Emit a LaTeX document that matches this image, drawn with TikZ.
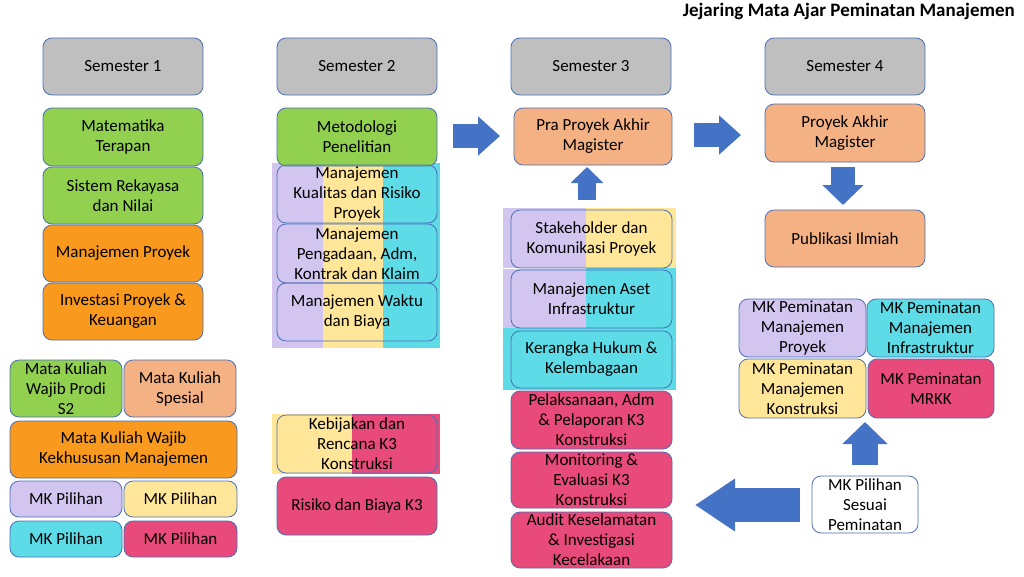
\documentclass[tikz,border=0pt]{standalone}
\usepackage{fontspec}
\setmainfont{Carlito}
\usetikzlibrary{arrows.meta}
\definecolor{bordc}{HTML}{4A6FB5}
\definecolor{arrc}{HTML}{4472C4}
\definecolor{cgray}{HTML}{BFBFBF}
\definecolor{cgreen}{HTML}{92D050}
\definecolor{corange}{HTML}{F99A1E}
\definecolor{cpeach}{HTML}{F4B183}
\definecolor{cpurple}{HTML}{D2C6F0}
\definecolor{cyellow}{HTML}{FFE699}
\definecolor{ccyan}{HTML}{5DDCE8}
\definecolor{cpink}{HTML}{E84A7B}
\begin{document}
\begin{tikzpicture}[x=1pt,y=-1pt,
  box/.style={draw=bordc, line width=0.8pt, rounded corners=9pt, align=center, inner sep=0pt,
    font=\fontsize{17}{20}\selectfont, text=black},
  sem/.style={box, fill=cgray, minimum width=160pt, minimum height=57pt},
  blockarrow/.style={line width=#1, arrc, line cap=butt},
  title/.style={font=\fontsize{19}{22}\selectfont\bfseries, inner sep=0pt}
]
\useasboundingbox (0,0) rectangle (1024,576);
\node[title, anchor=east] (title) at (1015,11) {Jejaring Mata Ajar Peminatan Manajemen};

% stripes column 2
\fill[cpurple] (272,163) rectangle (323,348);
\fill[cyellow] (323,163) rectangle (383,348);
\fill[ccyan] (383,163) rectangle (440,348);
\fill[cyellow] (272,414) rectangle (352,474);
\fill[cpink] (352,414) rectangle (440,474);
% stripes column 3
\fill[cpurple] (503,208) rectangle (586,328);
\fill[cyellow] (586,208) rectangle (676,268);
\fill[ccyan] (586,268) rectangle (676,328);
\fill[ccyan] (503,328) rectangle (676,390);
\draw[white, line width=0.8pt] (503,268) -- (586,268);

% column 1
\node[sem] (s1) at (123,66.5) {Semester 1};
\node[box, fill=cgreen, minimum width=160pt, minimum height=58pt] (mt) at (123,137) {Matematika\\Terapan};
\node[box, fill=cgreen, minimum width=160pt, minimum height=57pt] (srn) at (123,195.5) {Sistem Rekayasa\\dan Nilai};
\node[box, fill=corange, minimum width=160pt, minimum height=57pt] (mp) at (123,253.5) {Manajemen Proyek};
\node[box, fill=corange, minimum width=160pt, minimum height=57pt] (ipk) at (123,311.5) {Investasi Proyek \&\\Keuangan};

% column 2
\node[sem] (s2) at (357,66.5) {Semester 2};
\node[box, fill=cgreen, minimum width=160pt, minimum height=58pt] (metp) at (357,137) {Metodologi\\Penelitian};
\node[box, minimum width=160pt, minimum height=58pt] (mkr) at (357,194) {Manajemen\\Kualitas dan Risiko\\Proyek};
\node[box, minimum width=160pt, minimum height=59pt] (mpa) at (357,253.5) {Manajemen\\Pengadaan, Adm,\\Kontrak dan Klaim};
\node[box, minimum width=160pt, minimum height=58pt] (mwb) at (357,312) {Manajemen Waktu\\dan Biaya};
\node[box, minimum width=160pt, minimum height=58pt] (krk) at (357,444) {Kebijakan dan\\Rencana K3\\Konstruksi};
\node[box, fill=cpink, minimum width=160pt, minimum height=58pt] (rbk) at (357,506) {Risiko dan Biaya K3};

% column 3
\node[sem] (s3) at (591,66.5) {Semester 3};
\node[box, fill=cpeach, minimum width=158pt, minimum height=57pt] (ppa) at (593,136.5) {Pra Proyek Akhir\\Magister};
\node[box, minimum width=161pt, minimum height=58pt] (skp) at (591.5,239) {Stakeholder dan\\Komunikasi Proyek};
\node[box, minimum width=161pt, minimum height=58pt] (mai) at (591.5,299) {Manajemen Aset\\Infrastruktur};
\node[box, minimum width=161pt, minimum height=57pt] (khk) at (591.5,359.5) {Kerangka Hukum \&\\Kelembagaan};
\node[box, fill=cpink, minimum width=161pt, minimum height=58pt] (pap) at (591.5,420) {Pelaksanaan, Adm\\\& Pelaporan K3\\Konstruksi};
\node[box, fill=cpink, minimum width=161pt, minimum height=56pt] (mek) at (591.5,480) {Monitoring \&\\Evaluasi K3\\Konstruksi};
\node[box, fill=cpink, minimum width=161pt, minimum height=56pt] (aki) at (591.5,540) {Audit Keselamatan\\\& Investigasi\\Kecelakaan};

% column 4
\node[sem] (s4) at (845,66.5) {Semester 4};
\node[box, fill=cpeach, minimum width=160pt, minimum height=58pt] (pam) at (845,133) {Proyek Akhir\\Magister};
\node[box, fill=cpeach, minimum width=160pt, minimum height=57pt] (pi) at (845,238.5) {Publikasi Ilmiah};

% legend right
\node[box, fill=cpurple, minimum width=127pt, minimum height=58pt] (pmp) at (802.5,328) {MK Peminatan\\Manajemen\\Proyek};
\node[box, fill=ccyan, minimum width=127pt, minimum height=58pt] (pmi) at (930.5,328) {MK Peminatan\\Manajemen\\Infrastruktur};
\node[box, fill=cyellow, minimum width=127pt, minimum height=59pt] (pmk) at (802.5,388.5) {MK Peminatan\\Manajemen\\Konstruksi};
\node[box, fill=cpink, minimum width=126pt, minimum height=59pt] (pmr) at (931,388.5) {MK Peminatan\\MRKK};
\node[box, fill=white, minimum width=106pt, minimum height=57pt] (pil) at (865,504.5) {MK Pilihan\\Sesuai\\Peminatan};

% legend left
\node[box, fill=cgreen, minimum width=112pt, minimum height=57pt] (lw) at (66,388.5) {Mata Kuliah\\Wajib Prodi\\S2};
\node[box, fill=cpeach, minimum width=112pt, minimum height=57pt] (ls) at (180,388.5) {Mata Kuliah\\Spesial};
\node[box, fill=corange, minimum width=227pt, minimum height=57pt] (lk) at (123.5,449.5) {Mata Kuliah Wajib\\Kekhususan Manajemen};
\node[box, fill=cpurple, minimum width=112pt, minimum height=36pt] (lp1) at (66,499) {MK Pilihan};
\node[box, fill=cyellow, minimum width=113pt, minimum height=36pt] (lp2) at (180.5,499) {MK Pilihan};
\node[box, fill=ccyan, minimum width=112pt, minimum height=36pt] (lp3) at (66,539) {MK Pilihan};
\node[box, fill=cpink, minimum width=113pt, minimum height=36pt] (lp4) at (180.5,539) {MK Pilihan};

% block arrows
\coordinate (a1s) at (453,136); \coordinate (a1e) at (500,136);
\draw[blockarrow=24pt, -{Triangle[width=38pt,length=22pt]}] (a1s) -- (a1e);
\coordinate (a2s) at (694,135); \coordinate (a2e) at (741,135);
\draw[blockarrow=24pt, -{Triangle[width=38pt,length=22pt]}] (a2s) -- (a2e);
\coordinate (a3s) at (587,200); \coordinate (a3e) at (587,167);
\draw[blockarrow=18pt, -{Triangle[width=32pt,length=16pt]}] (a3s) -- (a3e);
\coordinate (a4s) at (843,167); \coordinate (a4e) at (843,205);
\draw[blockarrow=24pt, -{Triangle[width=40pt,length=20pt]}] (a4s) -- (a4e);
\coordinate (a5s) at (865,465); \coordinate (a5e) at (865,422);
\draw[blockarrow=26pt, -{Triangle[width=44pt,length=22pt]}] (a5s) -- (a5e);
\coordinate (a6s) at (800,505); \coordinate (a6e) at (695,505);
\draw[blockarrow=34pt, -{Triangle[width=50pt,length=40pt]}] (a6s) -- (a6e);
\end{tikzpicture}
\end{document}
